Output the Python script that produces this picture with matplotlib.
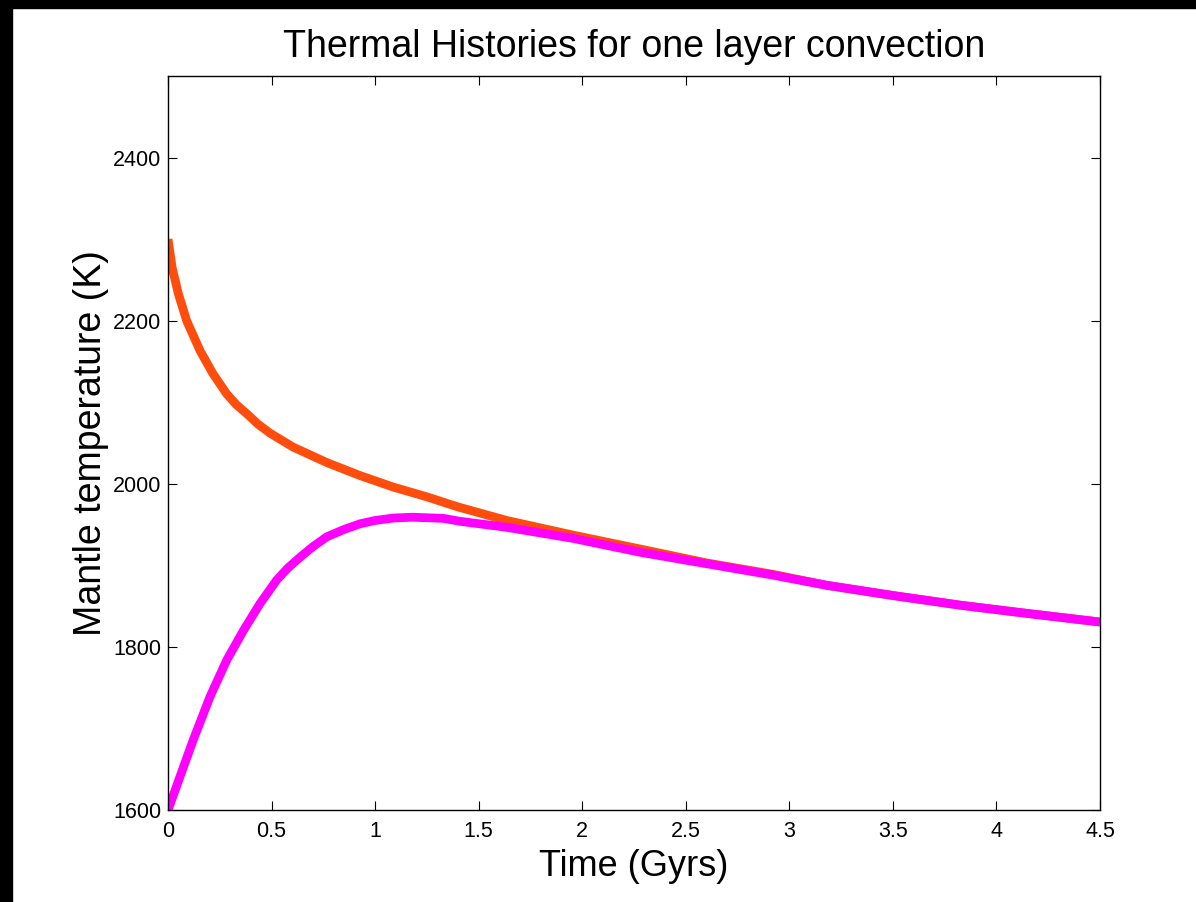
import matplotlib

matplotlib.use("Agg")
import matplotlib.pyplot as plt
from matplotlib.patches import Rectangle

# Time (Gyrs) and mantle temperature (K)
t_hot = [0, 0.02, 0.05, 0.09, 0.155, 0.217, 0.284, 0.33, 0.38, 0.435, 0.493,
         0.604, 0.767, 0.928, 1.087, 1.25, 1.395, 1.636, 1.957, 2.28, 2.60,
         2.92, 3.18, 3.50, 3.83, 4.15, 4.5]
T_hot = [2300, 2265, 2233, 2200, 2163, 2135, 2110, 2097, 2086, 2073, 2062,
         2045, 2026, 2010, 1996, 1984, 1972, 1955, 1937, 1920, 1903,
         1889, 1875.5, 1863, 1851, 1841, 1830.5]

t_cold = [0, 0.058, 0.122, 0.203, 0.284, 0.364, 0.444, 0.525, 0.58, 0.638,
          0.70, 0.767, 0.85, 0.928, 1.0, 1.088, 1.18, 1.33, 1.41, 1.636,
          1.957, 2.28, 2.60, 2.92, 3.18, 3.50, 3.83, 4.15, 4.5]
T_cold = [1600, 1641, 1686, 1739, 1784, 1820, 1853, 1882, 1897, 1910,
          1923, 1935, 1944, 1951, 1955, 1958, 1959, 1957.6, 1954, 1946.6,
          1933, 1916, 1902, 1888, 1875.6, 1863, 1851, 1841, 1830.5]

x_ticks = [0, 0.5, 1, 1.5, 2, 2.5, 3, 3.5, 4, 4.5]
x_tick_labels = ["0", "0.5", "1", "1.5", "2", "2.5", "3", "3.5", "4", "4.5"]
y_ticks = [1600, 1800, 2000, 2200, 2400]

plt.rcParams["font.family"] = ["Liberation Sans", "DejaVu Sans"]

fig = plt.figure(figsize=(11.96, 9.02), dpi=100, facecolor="white")
# black strips along the top and left edge of the original screenshot
fig.patches.append(Rectangle((0, 1 - 8 / 902), 1, 8 / 902, transform=fig.transFigure,
                             color="black", zorder=0))
fig.patches.append(Rectangle((0, 0), 12 / 1196, 1, transform=fig.transFigure,
                             color="black", zorder=0))

ax = fig.add_axes([168 / 1196, 92 / 902, 932 / 1196, 734 / 902])
ax.plot(t_hot, T_hot, color="#FF4D0D", linewidth=6.3, solid_capstyle="butt",
        solid_joinstyle="round")
ax.plot(t_cold, T_cold, color="#FF00FF", linewidth=6.3, solid_capstyle="butt",
        solid_joinstyle="round")

ax.set_xlim(0, 4.5)
ax.set_ylim(1600, 2500)
ax.set_xticks(x_ticks)
ax.set_xticklabels(x_tick_labels)
ax.set_yticks(y_ticks)
ax.tick_params(direction="in", length=6.5, width=0.8, top=True, right=True,
               labelsize=15.5)
ax.tick_params(axis="x", pad=8)
ax.tick_params(axis="y", pad=5)
for side in ax.spines.values():
    side.set_linewidth(1.0)

ax.set_title("Thermal Histories for one layer convection", fontsize=27, pad=14)
ax.set_xlabel("Time (Gyrs)", fontsize=26, labelpad=5)
ax.set_ylabel("Mantle temperature (K)", fontsize=27, labelpad=3)

fig.savefig("out.png", dpi=100, facecolor=fig.get_facecolor())
plt.close(fig)
